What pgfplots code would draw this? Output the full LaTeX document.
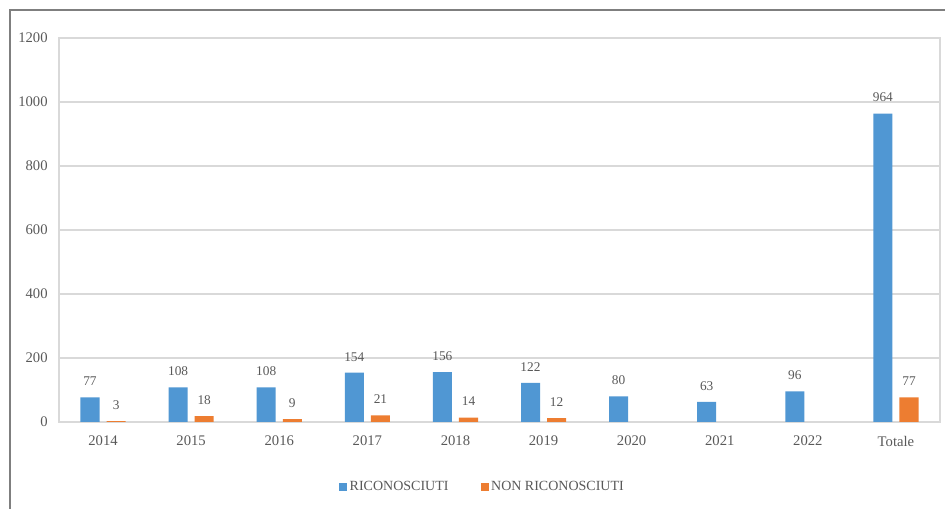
\documentclass[border=0pt]{standalone}
\usepackage{fontspec}
\setmainfont{Liberation Serif}
\usepackage{pgfplots}
\pgfplotsset{compat=1.18}

\definecolor{ricblue}{HTML}{5097D3}
\definecolor{nonorange}{HTML}{ED7D31}
\definecolor{txtgray}{HTML}{595959}
\definecolor{gridgray}{HTML}{D9D9D9}
\definecolor{framegray}{HTML}{7F7F7F}

\begin{document}
\begin{tikzpicture}
\path[use as bounding box] (0pt,0pt) rectangle (708.75pt,381.75pt);
\draw[framegray, line width=1.2pt] (7.5pt,0pt) -- (7.5pt,374.25pt) -- (708.75pt,374.25pt);
\begin{axis}[
    at={(44.25pt,65.25pt)}, anchor=south west,
    scale only axis,
    width=660.75pt, height=288pt,
    xmin=-0.5, xmax=9.5,
    ymin=0, ymax=1200,
    ytick={0,200,...,1200},
    xtick={0,...,9},
    xticklabels={2014,2015,2016,2017,2018,2019,2020,2021,2022,Totale},
    major tick length=0pt,
    ymajorgrids, grid style={gridgray, line width=0.8pt},
    axis line style={gridgray, line width=0.8pt},
    /pgf/number format/assume math mode=true,
    /pgf/number format/1000 sep={},
    tick label style={font=\fontsize{11}{13}\selectfont, text=txtgray},
    yticklabel style={xshift=-5pt},
    xticklabel style={yshift=-7pt},
    bar width=0.216,
    nodes near coords,
    every node near coord/.append style={font=\fontsize{10}{12}\selectfont, text=txtgray, anchor=center, yshift=12pt},
    legend columns=2,
    legend style={at={(0.481,-0.169)}, anchor=center, draw=none, font=\fontsize{10.5}{12}\selectfont, text=txtgray,
        /tikz/every even column/.append style={column sep=22pt}},
    legend image code/.code={\fill[#1] (0pt,-3pt) rectangle (6pt,3pt);},
]
\addplot[ybar, fill=ricblue, draw=none, bar shift=-0.148,
    every node near coord/.append style={xshift=-9.8pt}] coordinates {
    (0,77) (1,108) (2,108) (3,154) (4,156) (5,122) (6,80) (7,63) (8,96) (9,964)
};
\addplot[ybar, fill=nonorange, draw=none, bar shift=0.148,
    every node near coord/.append style={xshift=9.8pt}] coordinates {
    (0,3) (1,18) (2,9) (3,21) (4,14) (5,12) (9,77)
};
\legend{RICONOSCIUTI, NON RICONOSCIUTI}
\end{axis}
\end{tikzpicture}
\end{document}
